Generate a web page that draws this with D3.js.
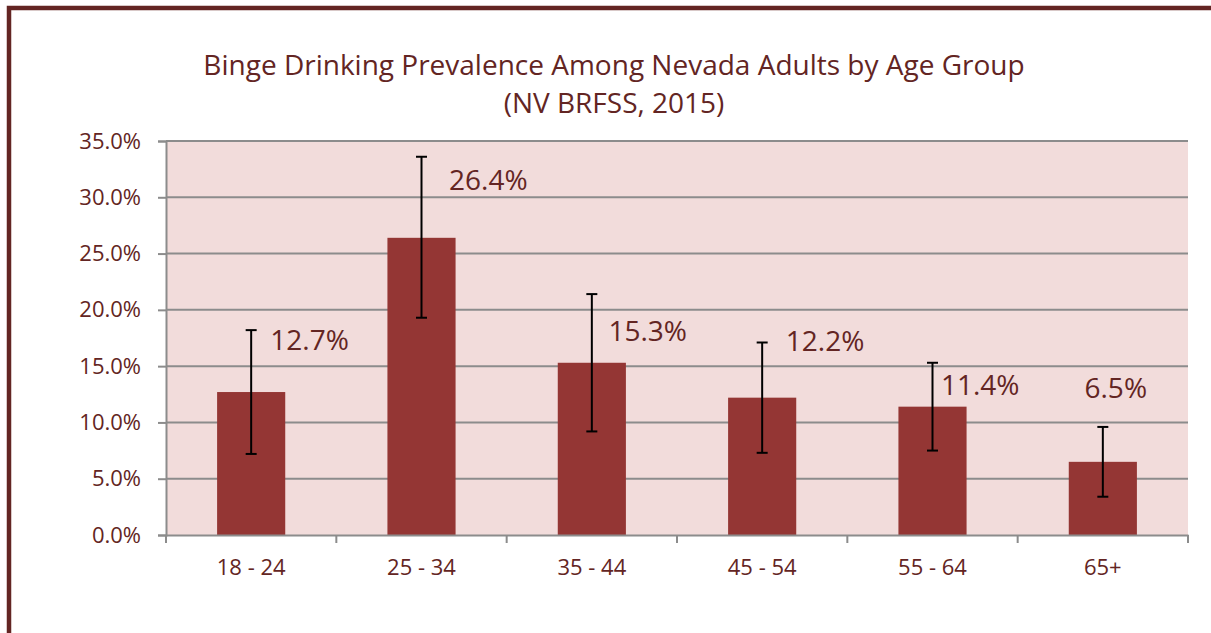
<!DOCTYPE html>
<html>
<head>
<meta charset="utf-8">
<script src="https://cdn.jsdelivr.net/npm/d3@7"></script>
<style>
  body { margin: 0; background: #fff; }
  text { font-family: "Open Sans", sans-serif; }
</style>
</head>
<body>
<script>
// data
var ageGroups = ["18 - 24", "25 - 34", "35 - 44", "45 - 54", "55 - 64", "65+"];
var prevalence = [12.7, 26.4, 15.3, 12.2, 11.4, 6.5];
var ciLow = [7.2, 19.3, 9.2, 7.3, 7.5, 3.4];
var ciHigh = [18.2, 33.6, 21.4, 17.1, 15.3, 9.6];
var yTicks = [0, 5, 10, 15, 20, 25, 30, 35];
// where the hand-placed value labels sit (value units / share of band)
var labelValue = [17.3, 31.5, 18.1, 17.2, 13.3, 13.0];
var labelBandPos = [0.843, 0.892, 0.828, 0.869, 0.78, 0.576];

var width = 1211, height = 633;
var textColor = "#632523";
var barColor = "#943634";
var plotBg = "#f2dcdb";
var gridColor = "#8c8c8c";

var svg = d3.select("body").append("svg")
    .attr("width", width)
    .attr("height", height);

// outer frame, runs off the right and bottom edge
svg.append("rect")
    .attr("x", 9).attr("y", 8)
    .attr("width", 1300).attr("height", 700)
    .attr("fill", "none")
    .attr("stroke", "#632523")
    .attr("stroke-width", 4.5);

var plotLeft = 166, plotRight = 1188, plotTop = 141, plotBottom = 535;

var x = d3.scaleBand()
    .domain(ageGroups)
    .range([plotLeft, plotRight])
    .paddingInner(0).paddingOuter(0);

var y = d3.scaleLinear()
    .domain([0, 35])
    .range([plotBottom, plotTop]);

// plot area
svg.append("rect")
    .attr("x", plotLeft).attr("y", plotTop)
    .attr("width", plotRight - plotLeft).attr("height", plotBottom - plotTop)
    .attr("fill", plotBg);

// gridlines
svg.append("g")
    .selectAll("line")
    .data(yTicks.slice(1))
    .join("line")
    .attr("x1", plotLeft).attr("x2", plotRight)
    .attr("y1", function (d) { return y(d); })
    .attr("y2", function (d) { return y(d); })
    .attr("stroke", gridColor)
    .attr("stroke-width", 2);

// y axis
var yAxis = d3.axisLeft(y)
    .tickValues(yTicks)
    .tickFormat(function (d) { return d.toFixed(1) + "%"; })
    .tickSize(8)
    .tickPadding(17);

var gy = svg.append("g")
    .attr("transform", "translate(" + plotLeft + ",0)")
    .call(yAxis);
gy.select(".domain").attr("stroke", gridColor).attr("stroke-width", 2);
gy.selectAll(".tick line").attr("stroke", gridColor).attr("stroke-width", 2);
gy.selectAll(".tick text")
    .attr("fill", textColor)
    .style("font-size", "22px");

// bars
var barW = x.bandwidth() * 0.4;
svg.append("g")
    .selectAll("rect")
    .data(prevalence)
    .join("rect")
    .attr("x", function (d, i) { return x(ageGroups[i]) + (x.bandwidth() - barW) / 2; })
    .attr("y", function (d) { return y(d); })
    .attr("width", barW)
    .attr("height", function (d) { return plotBottom - y(d); })
    .attr("fill", barColor);

// x axis
var xAxis = d3.axisBottom(x)
    .tickSize(0)
    .tickPadding(24);
var gx = svg.append("g")
    .attr("transform", "translate(0," + plotBottom + ")")
    .call(xAxis);
gx.select(".domain").attr("stroke", gridColor).attr("stroke-width", 2);
gx.selectAll(".tick text")
    .attr("fill", textColor)
    .style("font-size", "22px");

// category separators on x axis
var edges = ageGroups.map(function (g) { return x(g); }).concat([plotRight]);
gx.selectAll(".sep")
    .data(edges)
    .join("line")
    .attr("class", "sep")
    .attr("x1", function (d) { return d; })
    .attr("x2", function (d) { return d; })
    .attr("y1", 0).attr("y2", 8)
    .attr("stroke", gridColor)
    .attr("stroke-width", 2);

// error bars
var err = svg.append("g")
    .selectAll("g")
    .data(prevalence)
    .join("g");
var cap = 5.5;
function cx(i) { return x(ageGroups[i]) + x.bandwidth() / 2; }
err.append("line")
    .attr("x1", function (d, i) { return cx(i); })
    .attr("x2", function (d, i) { return cx(i); })
    .attr("y1", function (d, i) { return y(ciLow[i]); })
    .attr("y2", function (d, i) { return y(ciHigh[i]); })
    .attr("stroke", "#000").attr("stroke-width", 2);
err.append("line")
    .attr("x1", function (d, i) { return cx(i) - cap; })
    .attr("x2", function (d, i) { return cx(i) + cap; })
    .attr("y1", function (d, i) { return y(ciLow[i]); })
    .attr("y2", function (d, i) { return y(ciLow[i]); })
    .attr("stroke", "#000").attr("stroke-width", 2);
err.append("line")
    .attr("x1", function (d, i) { return cx(i) - cap; })
    .attr("x2", function (d, i) { return cx(i) + cap; })
    .attr("y1", function (d, i) { return y(ciHigh[i]); })
    .attr("y2", function (d, i) { return y(ciHigh[i]); })
    .attr("stroke", "#000").attr("stroke-width", 2);

// value labels
svg.append("g")
    .selectAll("text")
    .data(prevalence)
    .join("text")
    .attr("x", function (d, i) { return x(ageGroups[i]) + x.bandwidth() * labelBandPos[i]; })
    .attr("y", function (d, i) { return y(labelValue[i]); })
    .attr("dy", "0.35em")
    .attr("text-anchor", "middle")
    .attr("fill", textColor)
    .style("font-size", "28px")
    .text(function (d) { return d.toFixed(1) + "%"; });

// title
var title = svg.append("text")
    .attr("text-anchor", "middle")
    .attr("fill", textColor)
    .style("font-size", "28px");
title.append("tspan").attr("x", 614).attr("y", 75)
    .text("Binge Drinking Prevalence Among Nevada Adults by Age Group");
title.append("tspan").attr("x", 614).attr("y", 113)
    .text("(NV BRFSS, 2015)");
</script>
</body>
</html>
